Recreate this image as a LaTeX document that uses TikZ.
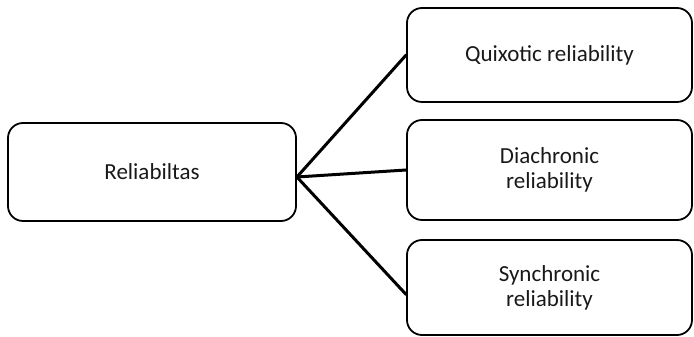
\documentclass[tikz,border=0pt]{standalone}
\usepackage{fontspec}
\setmainfont{Carlito}
\begin{document}
\begin{tikzpicture}[x=1pt,y=1pt,
  boxnode/.style={draw=black, line width=1.8pt, rounded corners=15pt,
    align=center, font=\fontsize{23}{25}\selectfont, text=black!90,
    inner sep=0pt, anchor=center},
  link/.style={draw=black, line width=3pt, line cap=round}]
  \useasboundingbox (0,0) rectangle (694,337);
  % root box
  \node[boxnode, minimum width=288pt, minimum height=98pt] (root) at (152,165) {Reliabiltas};
  % three branches
  \node[boxnode, minimum width=285pt, minimum height=94pt] (quix) at (549.5,282) {Quixotic reliability};
  \node[boxnode, minimum width=285pt, minimum height=100pt] (dia) at (549.5,167) {Diachronic\\reliability};
  \node[boxnode, minimum width=285pt, minimum height=95pt] (syn) at (549.5,49.5) {Synchronic\\reliability};
  % common start of the connectors
  \coordinate (hub) at ([yshift=-5pt]root.east);
  \draw[link] (hub) -- (quix.west);
  \draw[link] (hub) -- (dia.west);
  \draw[link] (hub) -- ([yshift=-7pt]syn.west);
\end{tikzpicture}
\end{document}
